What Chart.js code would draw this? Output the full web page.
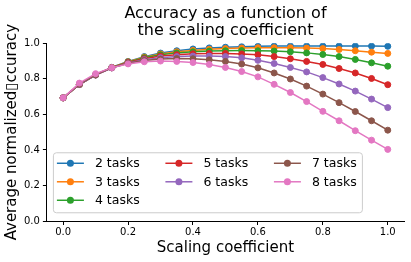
<!DOCTYPE html>
<html><head><meta charset="utf-8">
<script src="https://cdn.jsdelivr.net/npm/chart.js@4/dist/chart.umd.min.js"></script>
<style>html,body{margin:0;padding:0;background:#fff}</style>
</head><body>
<canvas id="c" width="411" height="262"></canvas>
<script>
// ====== Data ======
const coef   = [0.0,0.05,0.1,0.15,0.2,0.25,0.3,0.35,0.4,0.45,0.5,0.55,0.6,0.65,0.7,0.75,0.8,0.85,0.9,0.95,1.0];
const names  = ['2 tasks','3 tasks','4 tasks','5 tasks','6 tasks','7 tasks','8 tasks'];
const colors = ['#1f77b4','#ff7f0e','#2ca02c','#d62728','#9467bd','#8c564b','#e377c2'];
const acc2 = [0.693,0.768,0.822,0.865,0.898,0.925,0.945,0.958,0.968,0.974,0.978,0.981,0.983,0.984,0.985,0.985,0.985,0.985,0.985,0.984,0.983];
const acc3 = [0.693,0.768,0.822,0.864,0.896,0.922,0.940,0.952,0.960,0.966,0.970,0.973,0.975,0.975,0.975,0.973,0.970,0.965,0.958,0.950,0.943];
const acc4 = [0.693,0.768,0.822,0.863,0.894,0.918,0.935,0.946,0.952,0.956,0.958,0.959,0.958,0.956,0.952,0.946,0.937,0.925,0.909,0.890,0.871];
const acc5 = [0.693,0.768,0.822,0.862,0.892,0.913,0.928,0.936,0.941,0.943,0.943,0.940,0.935,0.925,0.913,0.898,0.881,0.858,0.833,0.802,0.767];
const acc6 = [0.693,0.768,0.821,0.861,0.889,0.908,0.919,0.925,0.928,0.928,0.925,0.918,0.904,0.886,0.864,0.839,0.807,0.771,0.731,0.686,0.638];
const acc7 = [0.693,0.770,0.823,0.862,0.888,0.903,0.911,0.914,0.913,0.907,0.898,0.883,0.862,0.833,0.799,0.759,0.714,0.666,0.616,0.564,0.511];
const acc8 = [0.693,0.776,0.829,0.863,0.884,0.896,0.900,0.898,0.892,0.881,0.864,0.841,0.811,0.769,0.723,0.672,0.617,0.564,0.508,0.455,0.403];
const series = [acc2,acc3,acc4,acc5,acc6,acc7,acc8];
const xTicks = [0.0,0.2,0.4,0.6,0.8,1.0];

const FONT = '"DejaVu Sans", sans-serif';

// ====== Legend (3 columns, column-major like matplotlib) ======
const colLegend = {
  id:'colLegend',
  afterDraw(chart){
    const {ctx, chartArea:a} = chart;
    const x0=a.left+6, y0=a.top+109, w=309, h=60;
    ctx.save();
    ctx.fillStyle='rgba(255,255,255,0.8)'; ctx.strokeStyle='#cccccc'; ctx.lineWidth=1;
    ctx.beginPath(); ctx.roundRect(x0+0.5,y0+0.5,w,h,3); ctx.fill(); ctx.stroke();
    ctx.font='12.5px '+FONT; ctx.textBaseline='middle'; ctx.textAlign='left';
    const perCol=[3,2,2]; let i=0;
    perCol.forEach((n,c)=>{
      for(let r=0;r<n;r++,i++){
        const d=chart.data.datasets[i];
        const hx=x0+4+c*108.5, hy=y0+11+r*18.5;
        ctx.strokeStyle=d.borderColor; ctx.lineWidth=1.5;
        ctx.beginPath(); ctx.moveTo(hx,hy); ctx.lineTo(hx+27,hy); ctx.stroke();
        ctx.fillStyle=d.borderColor; ctx.beginPath(); ctx.arc(hx+13.5,hy,3.5,0,Math.PI*2); ctx.fill();
        ctx.fillStyle='#000'; ctx.fillText(d.label,hx+38,hy+0.5);
      }
    });
    ctx.restore();
  }
};

new Chart(document.getElementById('c'), {
  type:'line',
  data:{ datasets: series.map((s,i)=>({
    label:names[i], data:coef.map((x,j)=>({x, y:s[j]})),
    borderColor:colors[i], backgroundColor:colors[i], pointBackgroundColor:colors[i], pointBorderColor:colors[i],
    borderWidth:1.5, pointRadius:3, pointBorderWidth:1, tension:0, order:series.length-i
  }))},
  options:{
    responsive:false, animation:false, devicePixelRatio:1,
    layout:{padding:{left:0,right:7,top:0,bottom:4}},
    plugins:{
      legend:{display:false}, tooltip:{enabled:false},
      title:{display:true, fullSize:false, text:['Accuracy as a function of','the scaling coefficient'],
        color:'#000', font:{family:FONT, size:16, weight:'normal', lineHeight:1.04}, padding:{top:6,bottom:4}}
    },
    scales:{
      x:{type:'linear', min:-0.05, max:1.05,
        afterBuildTicks:s=>{ s.ticks = xTicks.map(v=>({value:v})); },
        grid:{display:true, drawOnChartArea:false, drawTicks:true, tickLength:4, color:'#000'},
        border:{display:true, color:'#000', width:1},
        ticks:{color:'#000', padding:1, font:{family:FONT, size:10}, callback:v=>v.toFixed(1)},
        title:{display:true, text:'Scaling coefficient', color:'#000', font:{family:FONT, size:15}, padding:{top:0,bottom:1}}
      },
      y:{min:0, max:1,
        grid:{display:true, drawOnChartArea:false, drawTicks:true, tickLength:4, color:'#000'},
        border:{display:true, color:'#000', width:1},
        ticks:{color:'#000', stepSize:0.2, padding:3, font:{family:FONT, size:10}, callback:v=>v.toFixed(1)},
        title:{display:true, text:'Average normalized\u25AFccuracy', color:'#000', font:{family:FONT, size:15}, padding:{top:3,bottom:0}}
      }
    }
  },
  plugins:[colLegend]
});
</script>
</body></html>
